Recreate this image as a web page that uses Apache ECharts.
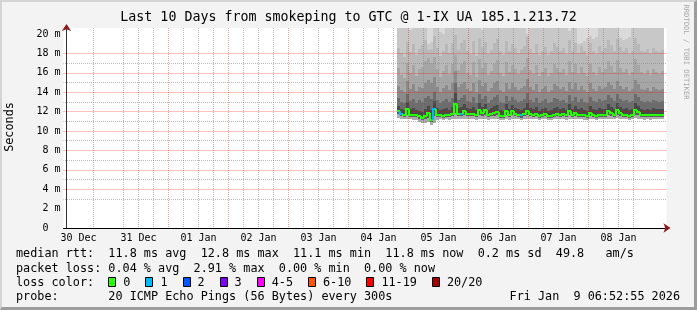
<!DOCTYPE html>
<html><head><meta charset="utf-8">
<script src="https://cdn.jsdelivr.net/npm/echarts@6/dist/echarts.min.js"></script>
<style>
html,body{margin:0;padding:0;background:#f3f3f3;}
#wrap{position:relative;width:697px;height:310px;overflow:hidden;background:#f3f3f3;}
#chart{position:absolute;left:0;top:0;width:697px;height:310px;}
#frame{position:absolute;left:0;top:0;width:697px;height:310px;box-sizing:border-box;border-top:2px solid #d4d4d4;border-left:2px solid #d4d4d4;border-right:3px solid #9c9c9c;border-bottom:3px solid #9c9c9c;pointer-events:none;}
</style></head><body>
<div id="wrap"><div id="chart"></div><div id="frame"></div></div>
<script>
// ---------- axis / tick data ----------
const dayLabels = ['30 Dec','31 Dec','01 Jan','02 Jan','03 Jan','04 Jan','05 Jan','06 Jan','07 Jan','08 Jan'];
const noonHours = [12,36,60,84,108,132,156,180,204,228];        // hours since 30 Dec 00:00
const midnightHours = [24,48,72,96,120,144,168,192,216,240];
const xMinHour = 6, xMaxHour = 247.2;
const majorMsTicks = [2,4,6,8,10,12,14,16,18,20];
const minorMsTicks = [1,3,5,7,9,11,13,15,17,19];
const yLabelTicks = [0,2,4,6,8,10,12,14,16,18,20];
const yMaxMs = 20.62;
// ---------- sample timing (hours since 30 Dec 00:00) ----------
const firstSampleHour = 139.5;
const sampleStepHours = 1.2;
// ---------- series values (ms) ----------
const medianMs = [12.1,11.8,11.7,12.3,11.7,11.7,11.7,11.5,11.3,11.55,
 11.9,11.1,12.3,11.7,11.6,11.55,11.7,11.6,11.8,12.8,
 11.8,11.8,12.1,11.8,11.8,11.8,11.6,12.15,11.9,12.15,
 11.6,11.8,11.9,12.0,11.55,11.55,12.1,11.65,12.1,11.8,
 11.7,11.65,11.8,12.1,11.8,11.7,11.8,11.55,11.7,11.8,
 11.55,11.55,11.7,11.8,11.7,11.8,11.6,12.1,11.7,11.9,
 11.7,11.7,11.6,11.55,11.9,11.7,11.55,11.7,11.7,11.7,
 12.1,11.9,11.7,12.2,11.9,11.7,11.7,11.55,11.7,12.2,
 12.0,11.7,11.6,11.7,11.6,11.7,11.7,11.7,11.7];
const lossCount = [0,1,0,0,0,0,0,0,0,0,
 0,0,1,0,0,0,0,0,0,0,
 0,1,0,0,0,0,0,0,0,0,
 0,0,0,0,0,0,0,0,0,0,
 0,1,0,0,0,0,0,0,0,0,
 0,0,0,0,0,0,0,0,0,0,
 0,0,0,0,0,0,0,0,0,0,
 0,0,0,0,0,0,0,0,0,0,
 0,0,0,0,0,0,0,0,0];
const minMs = [11.3,11.25,11.2,11.2,11.2,11.15,11.1,10.95,10.8,10.85,
 10.9,10.65,10.8,11.15,11.2,11.15,11.2,11.15,11.2,11.2,
 11.2,11.25,11.2,11.25,11.2,11.2,11.15,11.25,11.2,11.25,
 11.15,11.2,11.25,11.2,11.15,11.1,11.2,11.15,11.25,11.2,
 11.2,11.1,11.2,11.25,11.2,11.2,11.25,11.1,11.2,11.2,
 11.1,11.15,11.2,11.25,11.2,11.2,11.15,11.25,11.2,11.25,
 11.2,11.2,11.15,11.1,11.2,11.2,11.1,11.2,11.2,11.2,
 11.25,11.2,11.2,11.3,11.25,11.2,11.2,11.1,11.2,11.3,
 11.25,11.2,11.15,11.2,11.15,11.2,11.2,11.2,11.2];
const lowMs = [11.8,11.55,11.45,11.6,11.45,11.45,11.4,11.25,11.1,11.2,
 11.3,10.9,11.5,11.45,11.4,11.35,11.45,11.4,11.5,11.9,
 11.5,11.55,11.6,11.55,11.5,11.5,11.4,11.6,11.55,11.6,
 11.4,11.5,11.55,11.6,11.35,11.3,11.6,11.4,11.6,11.5,
 11.45,11.35,11.5,11.6,11.5,11.45,11.5,11.3,11.45,11.5,
 11.3,11.35,11.45,11.5,11.45,11.5,11.4,11.6,11.45,11.55,
 11.45,11.45,11.4,11.3,11.55,11.45,11.3,11.45,11.45,11.45,
 11.6,11.55,11.45,11.65,11.55,11.45,11.45,11.3,11.45,11.65,
 11.6,11.45,11.4,11.45,11.4,11.45,11.45,11.45,11.45];
const up1Ms = [12.6,12.3,12.2,13.0,12.3,12.4,12.2,12.1,12.0,12.3,
 12.6,12.2,13.1,12.4,12.2,12.3,12.4,12.2,12.5,13.9,
 12.4,12.5,12.8,12.4,12.3,12.5,12.2,12.9,12.5,12.8,
 12.2,12.4,12.6,12.7,12.2,12.1,12.8,12.3,12.7,12.4,
 12.3,12.2,12.4,12.9,12.4,12.3,12.5,12.1,12.3,12.4,
 12.1,12.2,12.4,12.5,12.3,12.4,12.2,12.8,12.3,12.6,
 12.3,12.4,12.2,12.1,12.6,12.3,12.2,12.4,12.3,12.3,
 12.8,12.5,12.3,12.9,12.5,12.3,12.4,12.2,12.3,12.9,
 12.6,12.3,12.2,12.3,12.2,12.4,12.3,12.3,12.3];
const up2Ms = [13.4,13.0,12.9,13.8,13.1,13.3,12.9,13.2,13.0,13.4,
 13.6,13.3,14.0,13.2,12.9,13.1,13.3,13.0,13.4,15.0,
 13.2,13.4,13.7,13.1,13.0,13.5,12.9,13.8,13.3,13.6,
 12.9,13.2,13.5,13.7,13.0,12.9,13.6,13.1,13.5,13.2,
 13.0,13.1,13.3,13.9,13.2,13.0,13.4,12.9,13.1,13.3,
 12.9,13.0,13.4,13.3,13.1,13.2,12.9,13.7,13.1,13.5,
 13.0,13.3,13.0,12.9,13.5,13.1,13.0,13.3,13.1,13.2,
 13.7,13.4,13.1,13.8,13.3,13.1,13.2,13.0,13.1,13.8,
 13.5,13.1,13.0,13.1,13.0,13.2,13.1,13.0,13.1];
const up3Ms = [14.6,14.2,14.0,15.2,14.3,14.8,14.1,14.5,14.4,15.0,
 15.3,14.9,15.6,14.5,14.0,14.4,14.7,14.2,14.9,16.2,
 14.5,14.8,15.1,14.3,14.1,15.0,14.0,15.3,14.6,15.0,
 14.1,14.4,14.9,15.2,14.2,14.0,15.0,14.3,14.9,14.5,
 14.2,14.4,14.6,15.4,14.5,14.2,14.8,14.0,14.3,14.6,
 14.0,14.2,14.8,14.6,14.3,14.5,14.1,15.1,14.3,14.9,
 14.2,14.6,14.2,14.0,14.9,14.3,14.1,14.6,14.3,14.5,
 15.1,14.7,14.3,15.2,14.6,14.3,14.5,14.1,14.3,15.3,
 14.8,14.3,14.2,14.4,14.1,14.5,14.3,14.2,14.3];
const up4Ms = [16.5,15.8,15.5,17.0,16.0,16.8,15.7,16.4,16.6,17.2,
 17.5,17.0,17.6,16.4,15.6,16.2,16.8,15.9,16.9,17.8,
 16.3,16.9,17.2,16.0,15.8,17.1,15.6,17.4,16.5,17.0,
 15.8,16.2,16.9,17.3,16.0,15.7,17.1,16.1,16.8,16.4,
 15.9,16.3,16.6,17.5,16.3,15.9,16.8,15.7,16.1,16.5,
 15.7,16.0,16.9,16.5,16.1,16.4,15.8,17.2,16.1,16.9,
 15.9,16.6,16.0,15.7,16.9,16.1,15.8,16.6,16.1,16.4,
 17.2,16.7,16.1,17.3,16.5,16.1,16.4,15.8,16.1,17.4,
 16.8,16.1,15.9,16.3,15.8,16.4,16.1,15.9,16.2];
const up5Ms = [18.6,18.0,17.6,19.2,18.1,19.0,17.8,18.5,18.9,19.4,
 18.4,18.5,19.8,18.6,17.7,18.3,19.0,18.0,19.1,19.9,
 18.4,19.1,19.4,18.2,17.9,19.3,17.7,19.6,18.7,19.2,
 17.9,18.4,19.1,19.5,18.2,17.8,19.3,18.3,19.0,18.6,
 18.0,18.5,18.8,19.7,18.5,18.0,19.0,17.8,18.3,18.7,
 17.8,18.2,19.1,18.7,18.3,18.6,17.9,19.4,18.3,19.1,
 18.0,18.8,18.2,17.8,19.1,18.3,17.9,18.8,18.3,18.6,
 19.4,18.9,18.3,19.5,18.7,18.3,18.6,17.9,18.3,19.6,
 19.0,18.3,18.1,18.5,17.9,18.6,18.3,18.1,18.4];
const up6Ms = [22,22,22,22,20.4,22,22,22,22,22,
 19.0,19.2,22,22,20.2,20.0,22,22,22,22,
 22,22,22,22,22,22,22,22,20.4,22,
 22,22,22,22,22,22,22,22,22,22,
 22,22,22,20.0,22,22,22,22,22,22,
 22,22,22,22,22,22,22,20.3,22,22,
 19.0,19.1,19.3,19.6,19.8,19.5,19.7,22,22,22,
 22,22,22,22,19.6,19.4,19.5,19.7,22,22,
 22,22,22,22,22,22,22,22,22];
// ---------- legend data ----------
const lossLabels = ['0','1','2','3','4-5','6-10','11-19','20/20'];
const lossColors = ['#26ff00','#00b8ff','#0059ff','#7e00ff','#ff00ff','#ff5500','#ff0000','#a10000'];
const lossLowerBounds = [0,1,2,3,4,6,11,20];
const smokeColors = ['#ababab','#5e5e5e','#4a4a4a','#6c6c6c','#8b8b8b','#a6a6a6','#b8b8b8','#c8c8c8','#dadada'];
const statLines = [
  'median rtt:  11.8 ms avg  12.8 ms max  11.1 ms min  11.8 ms now  0.2 ms sd  49.8   am/s',
  'packet loss: 0.04 % avg  2.91 % max  0.00 % min  0.00 % now',
  'loss color:',
  'probe:       20 ICMP Echo Pings (56 Bytes) every 300s'
];
const stampText = 'Fri Jan  9 06:52:55 2026';

function lossColor(n){ let k=0; for(let j=0;j<lossLowerBounds.length;j++){ if(n>=lossLowerBounds[j]) k=j; } return lossColors[k]; }

// 6-hourly minor ticks (every 6 h that is not a midnight)
const minorHourTicks = [];
for(let h=12; h<xMaxHour; h+=6){ if(midnightHours.indexOf(h)<0) minorHourTicks.push(h); }

const MONO = '"DejaVu Sans Mono", monospace';
const RED_V = 'rgba(255,0,0,0.4)';
const RED_H = 'rgba(255,0,0,0.5)';
const GRAY_GRID = 'rgba(128,128,128,0.55)';
const smokeData = medianMs.map((m,i)=>{
  const t0 = firstSampleHour + i*sampleStepHours;
  return [t0, t0+sampleStepHours, minMs[i], lowMs[i], m, up1Ms[i], up2Ms[i], up3Ms[i], up4Ms[i], up5Ms[i], up6Ms[i]];
});
const medianData = medianMs.map((m,i)=>{
  const t0 = firstSampleHour + i*sampleStepHours;
  return [t0, t0+sampleStepHours, m, i>0?medianMs[i-1]:m, lossCount[i]];
});

function renderSmoke(params, api){
  const cs = params.coordSys;
  const top = cs.y, bot = cs.y + cs.height;
  const x0 = Math.round(api.coord([api.value(0),0])[0]);
  const x1 = Math.round(api.coord([api.value(1),0])[0]);
  const lv = [];
  for(let k=2;k<=10;k++) lv.push(api.value(k));
  lv.push(yMaxMs);
  const children = [];
  for(let k=0;k<lv.length-1;k++){
    let yl = Math.round(api.coord([0,lv[k]])[1]);
    let yh = Math.round(api.coord([0,Math.min(lv[k+1],yMaxMs)])[1]);
    yl = Math.min(Math.max(yl, top), bot); yh = Math.min(Math.max(yh, top), bot);
    if(yl-yh<=0) continue;
    children.push({type:'rect', shape:{x:x0,y:yh,width:x1-x0,height:yl-yh}, style:{fill:smokeColors[k]}, silent:true});
  }
  return {type:'group', children};
}
function renderMedian(params, api){
  const x0 = Math.round(api.coord([api.value(0),0])[0]);
  const x1 = Math.round(api.coord([api.value(1),0])[0]);
  const y = Math.round(api.coord([0,api.value(2)])[1]);
  const yp = Math.round(api.coord([0,api.value(3)])[1]);
  return {type:'polyline', silent:true, shape:{points:[[x0,yp],[x0,y],[x1,y]]}, style:{stroke:lossColor(api.value(4)), lineWidth:2, fill:'none'}};
}

// legend graphics
const CW = 7.1, LX = 16;
const rowsY = [254, 268.5, 282.5, 297];
const graphics = [];
statLines.forEach((t,i)=>graphics.push({type:'text', silent:true, style:{text:t, x:LX, y:rowsY[i], fill:'#000', font:'11.8px '+MONO, textVerticalAlign:'middle', verticalAlign:'middle'}}));
graphics.push({type:'text', silent:true, style:{text:stampText, x:680, y:rowsY[3], fill:'#000', font:'11.8px '+MONO, textAlign:'right', align:'right', textVerticalAlign:'middle', verticalAlign:'middle'}});
let bx = LX + 13*CW;
lossLabels.forEach((lab,i)=>{
  graphics.push({type:'rect', silent:true, shape:{x:Math.round(bx)+0.5, y:277.5, width:7, height:9}, style:{fill:lossColors[i], stroke:'#000', lineWidth:1}});
  graphics.push({type:'text', silent:true, style:{text:lab, x:bx+15, y:rowsY[2], fill:'#000', font:'11.8px '+MONO, textVerticalAlign:'middle', verticalAlign:'middle'}});
  bx = bx + 15 + lab.length*CW + 15;
});
graphics.push({type:'text', silent:true, rotation:Math.PI/2, x:10, y:127, style:{text:'Seconds', x:0, y:0, fill:'#000', font:'11.8px '+MONO, textAlign:'center', align:'center', textVerticalAlign:'middle', verticalAlign:'middle'}});
graphics.push({type:'text', silent:true, rotation:-Math.PI/2, x:686, y:52, style:{text:'RRDTOOL / TOBI OETIKER', x:0, y:0, fill:'#a8a8a8', font:'7.2px '+MONO, textAlign:'center', align:'center', textVerticalAlign:'middle', verticalAlign:'middle'}});

const chart = echarts.init(document.getElementById('chart'), null, {renderer:'canvas', devicePixelRatio:1});
chart.setOption({
  animation:false,
  backgroundColor:'#f3f3f3',
  title:{text:'Last 10 Days from smokeping to GTC @ 1-IX UA 185.1.213.72', left:'center', top:11, padding:0,
    textStyle:{fontFamily:MONO, fontSize:13.3, fontWeight:'normal', color:'#000'}},
  grid:{left:63.5, top:28, width:603, height:200, show:true, backgroundColor:'#ffffff', borderWidth:0},
  xAxis:[{
    // minor (6-hourly) gray grid
    type:'value', min:xMinHour, max:xMaxHour, position:'bottom', z:4,
    axisLine:{show:false}, axisTick:{show:false, customValues:minorHourTicks}, axisLabel:{show:false},
    splitLine:{show:true, showMinLine:false, showMaxLine:false, lineStyle:{color:GRAY_GRID, type:[1,1], width:1}}
  },{
    // major (midnight) red grid + day labels + axis line
    type:'value', min:xMinHour, max:xMaxHour, position:'bottom', z:5,
    axisLine:{show:true, onZero:false, lineStyle:{color:'#000', width:1}},
    axisTick:{show:false, customValues:midnightHours},
    axisLabel:{margin:5, color:'#000', fontFamily:MONO, fontSize:10, customValues:noonHours,
      formatter:(v)=>{ const k=noonHours.indexOf(v); return k>=0 ? dayLabels[k] : ''; }},
    splitLine:{show:true, showMinLine:false, showMaxLine:false, lineStyle:{color:RED_V, type:[1,1], width:1}}
  },{
    type:'value', min:xMinHour, max:xMaxHour, position:'bottom', offset:0, z:8,
    axisLine:{show:true, onZero:false, symbol:['none','arrow'], symbolSize:[7,7], symbolOffset:[0,4], lineStyle:{color:'#8b1a1a', width:0}},
    axisTick:{show:false}, axisLabel:{show:false}, splitLine:{show:false}
  }],
  yAxis:[{
    type:'value', min:0, max:yMaxMs, position:'left', offset:-3, z:5,
    axisLine:{show:true, lineStyle:{color:'#333', width:1}},
    axisTick:{show:false, customValues:majorMsTicks},
    axisLabel:{margin:6, color:'#000', fontFamily:MONO, fontSize:10, customValues:yLabelTicks,
      formatter:(v)=> (v===0 ? '0  ' : v+' m')},
    splitLine:{show:true, showMinLine:false, showMaxLine:false, lineStyle:{color:RED_H, type:[1,1], width:1}}
  },{
    type:'value', min:0, max:yMaxMs, position:'left', offset:-3, z:4,
    axisLine:{show:false}, axisTick:{show:false, customValues:minorMsTicks}, axisLabel:{show:false},
    splitLine:{show:true, showMinLine:false, showMaxLine:false, lineStyle:{color:GRAY_GRID, type:[1,1], dashOffset:0.5, width:1}}
  },{
    type:'value', min:0, max:yMaxMs, position:'left', offset:-3, z:8,
    axisLine:{show:true, symbol:['none','arrow'], symbolSize:[7,7], symbolOffset:[0,4], lineStyle:{color:'#8b1a1a', width:0}},
    axisTick:{show:false}, axisLabel:{show:false}, splitLine:{show:false}
  }],
  series:[
    {type:'custom', name:'smoke', xAxisIndex:0, yAxisIndex:0, z:2, silent:true, renderItem:renderSmoke, encode:{x:[0,1], y:[2,3,4,5,6,7,8,9,10]}, data:smokeData},
    {type:'custom', name:'median', xAxisIndex:0, yAxisIndex:0, z:7, silent:true, renderItem:renderMedian, encode:{x:[0,1], y:[2,3]}, data:medianData}
  ],
  graphic:{elements:graphics}
});
</script>
</body></html>
